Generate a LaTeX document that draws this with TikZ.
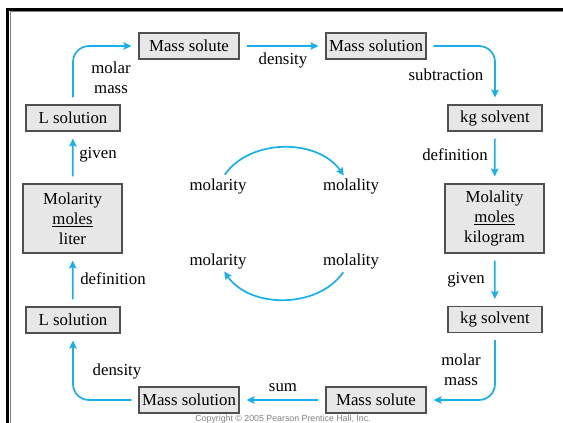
\documentclass[tikz,border=0pt]{standalone}
\usepackage{fontspec}
\setmainfont{Liberation Serif}
\setsansfont{Liberation Sans}
\usepackage{tikz}
\usetikzlibrary{arrows.meta,calc}
\definecolor{flowblue}{RGB}{22,176,236}
\definecolor{boxfill}{RGB}{231,231,231}
\definecolor{boxline}{RGB}{80,80,80}
\begin{document}
\begin{tikzpicture}[x=1pt,y=-1pt,
    box/.style={draw=boxline,fill=boxfill,line width=1.1pt,minimum height=26pt,inner sep=1pt,font=\fontsize{16.8}{20}\selectfont},
    bigbox/.style={box,minimum width=99pt,minimum height=69pt,align=center},
    lbl/.style={inner sep=1pt,font=\fontsize{16.8}{20}\selectfont,align=center},
    flow/.style={flowblue,line width=1.7pt,-{Stealth[length=8pt,width=7.5pt,inset=1.5pt]},shorten <=7pt,shorten >=7pt,rounded corners=16pt}]
    \useasboundingbox(0,0)rectangle(563,423);
    \draw[gray,line width=1pt](10,423)--(10,11)--(563,11);
    \draw[line width=3pt](7.5,423)--(7.5,9)--(563,9);
    \node[box,minimum width=100pt](msoluteT)at(189,46){Mass solute};
    \node[box,minimum width=100pt](msolutionT)at(376,46){Mass solution};
    \node[box,minimum width=94pt](lsolT)at(73,118){L solution};
    \node[box,minimum width=94pt](kgT)at(495,118){kg solvent};
    \node[bigbox](molarity)at(72.5,218.5){Molarity\\\underline{moles}\\liter};
    \node[bigbox](molality)at(494.5,218.5){Molality\\\underline{moles}\\kilogram};
    \node[box,minimum width=94pt](lsolB)at(73,320){L solution};
    \node[box,minimum width=94pt](kgB)at(495,319.5){kg solvent};
    \node[box,minimum width=100pt](msolutionB)at(189,400){Mass solution};
    \node[box,minimum width=100pt](msoluteB)at(376,400){Mass solute};
    \draw[flow](lsolT)|-(msoluteT);
    \draw[flow](msoluteT)--(msolutionT);
    \draw[flow](msolutionT)-|(kgT);
    \draw[flow](kgT)--(molality);
    \draw[flow](molality)--(kgB);
    \draw[flow](kgB)|-(msoluteB);
    \draw[flow](msoluteB)--(msolutionB);
    \draw[flow](msolutionB)-|(lsolB);
    \draw[flow](lsolB)--(molarity);
    \draw[flow](molarity)--(lsolT);
    \node[lbl](molarmassT)at(111,78){molar\\mass};
    \node[lbl](densityT)at(283,60){density};
    \node[lbl](subtraction)at(446,75){subtraction};
    \node[lbl](definitionR)at(455,155){definition};
    \node[lbl](givenR)at(466,280){given};
    \node[lbl](molarmassB)at(461,370){molar\\mass};
    \node[lbl](sum)at(283,388){sum};
    \node[lbl](densityB)at(117,371){density};
    \node[lbl](definitionL)at(113,279){definition};
    \node[lbl](givenL)at(98,155){given};
    \node[lbl](mtyT)at(218,186){molarity};
    \node[lbl](mlyT)at(351,186){molality};
    \node[lbl](mtyB)at(218,261){molarity};
    \node[lbl](mlyB)at(351,261){molality};
    \draw[flow,shorten <=3pt,shorten >=2pt]([xshift=5pt]mtyT.north)to[bend left=55]([xshift=-6pt]mlyT.north);
    \draw[flow,shorten <=3pt,shorten >=2pt]([xshift=-6pt]mlyB.south)to[bend left=55]([xshift=5pt]mtyB.south);
    \node[font=\fontsize{8.8}{10}\sffamily,text=gray,inner sep=0pt,anchor=north](copyright)at(283,414.6){Copyright \textcopyright\ 2005 Pearson Prentice Hall, Inc.};
\end{tikzpicture}
\end{document}
